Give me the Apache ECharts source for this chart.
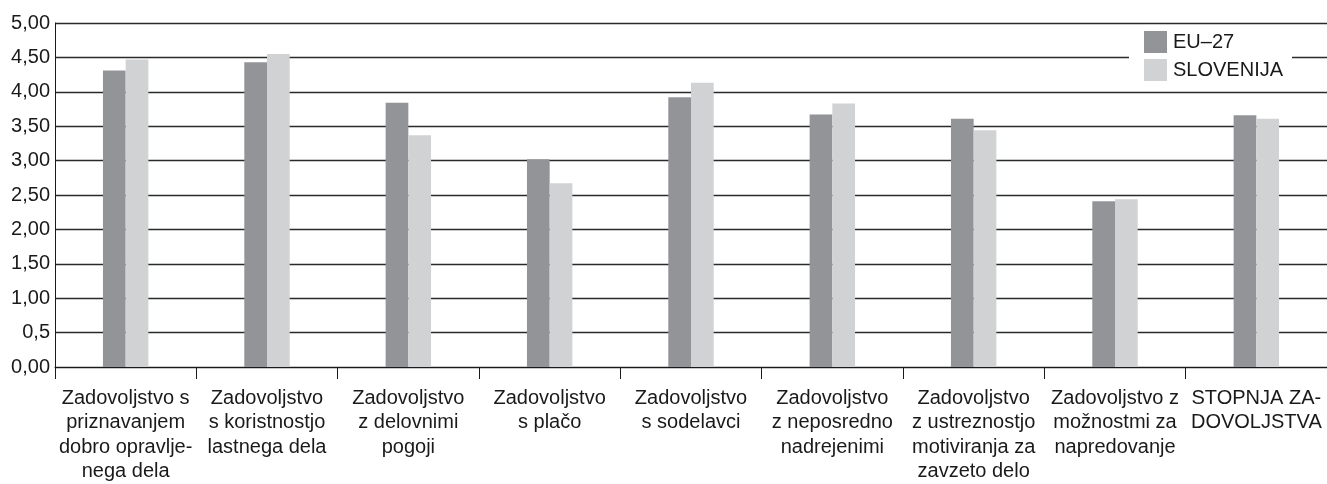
<!DOCTYPE html>
<html>
<head>
<meta charset="utf-8">
<script src="https://cdn.jsdelivr.net/npm/echarts@6/dist/echarts.min.js"></script>
<style>
html,body{margin:0;padding:0;background:#fff;}
#chart{width:1327px;height:484px;}
</style>
</head>
<body>
<div id="chart"></div>
<script>
const categories = [
  'Zadovoljstvo s\npriznavanjem\ndobro opravlje-\nnega dela',
  'Zadovoljstvo\ns koristnostjo\nlastnega dela',
  'Zadovoljstvo\nz delovnimi\npogoji',
  'Zadovoljstvo\ns plačo',
  'Zadovoljstvo\ns sodelavci',
  'Zadovoljstvo\nz neposredno\nnadrejenimi',
  'Zadovoljstvo\nz ustreznostjo\nmotiviranja za\nzavzeto delo',
  'Zadovoljstvo z\nmožnostmi za\nnapredovanje',
  'STOPNJA ZA-\nDOVOLJSTVA'
];
const seriesNames = ['EU–27', 'SLOVENIJA'];
const eu27 = [4.31, 4.43, 3.84, 3.02, 3.92, 3.67, 3.61, 2.41, 3.66];
const slovenija = [4.47, 4.55, 3.37, 2.67, 4.13, 3.83, 3.44, 2.44, 3.61];
const yTickLabels = ['0,00', '0,5', '1,00', '1,50', '2,00', '2,50', '3,00', '3,50', '4,00', '4,50', '5,00'];

const FONT = '"Liberation Sans", Arial, sans-serif';
const chart = echarts.init(document.getElementById('chart'));
chart.setOption({
  animation: false,
  backgroundColor: '#ffffff',
  textStyle: { fontFamily: FONT },
  grid: { left: 55, right: -5, top: 23, bottom: 115, containLabel: false },
  legend: {
    orient: 'vertical',
    left: 1129,
    top: 26,
    padding: [5, 9, 5, 15],
    backgroundColor: '#ffffff',
    itemWidth: 23,
    itemHeight: 22,
    itemGap: 6,
    icon: 'rect',
    textStyle: { fontFamily: FONT, fontSize: 20, color: '#1a1a1a', padding: [0, 0, 0, 1] },
    data: seriesNames
  },
  xAxis: {
    type: 'category',
    data: categories,
    axisLine: { show: true, lineStyle: { color: '#1a1a1a', width: 1 } },
    axisTick: { show: true, alignWithLabel: false, length: 12, lineStyle: { color: '#1a1a1a', width: 1 } },
    axisLabel: {
      interval: 0,
      margin: 19,
      fontFamily: FONT,
      fontSize: 20,
      lineHeight: 24.5,
      color: '#1a1a1a',
      align: 'center'
    },
    splitLine: { show: false }
  },
  yAxis: {
    type: 'value',
    min: 0,
    max: 5,
    interval: 0.5,
    axisLine: { show: true, lineStyle: { color: '#1a1a1a', width: 1 } },
    axisTick: { show: false },
    axisLabel: {
      margin: 5,
      fontFamily: FONT,
      fontSize: 20,
      color: '#1a1a1a',
      formatter: function (v, i) { return yTickLabels[i]; }
    },
    splitLine: { show: true, lineStyle: { color: '#2a2a2a', width: 1.3 } }
  },
  series: [
    {
      name: seriesNames[0],
      type: 'bar',
      data: eu27,
      barWidth: 22.7,
      barGap: '0%',
      itemStyle: { color: '#939498' }
    },
    {
      name: seriesNames[1],
      type: 'bar',
      data: slovenija,
      barWidth: 22.7,
      barGap: '0%',
      itemStyle: { color: '#d1d2d4' }
    }
  ]
});
</script>
</body>
</html>
